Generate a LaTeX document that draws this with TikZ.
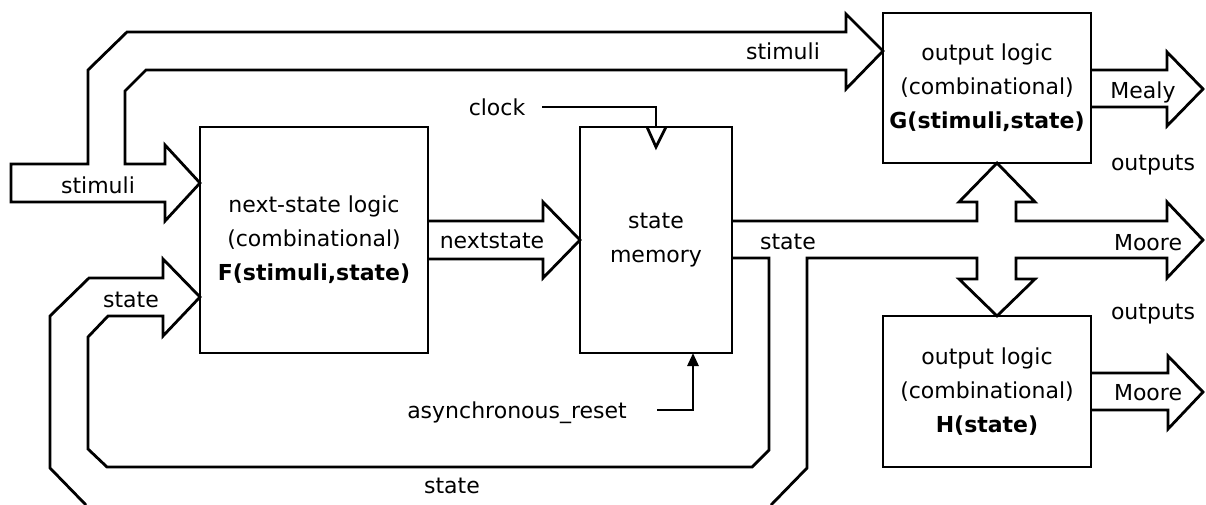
\documentclass[tikz,border=0pt]{standalone}
\usepackage{fontspec}
\setmainfont{DejaVu Sans}
\usetikzlibrary{arrows.meta}
\begin{document}
\begin{tikzpicture}[x=1pt,y=-1pt,
  box/.style={draw, line width=2.8pt, inner sep=0pt, align=center,
    font=\fontsize{22}{34}\selectfont},
  lbl/.style={font=\fontsize{22}{26}\selectfont, inner sep=0pt, anchor=base},
  bus/.style={draw, line width=2.8pt, line join=miter},
  wire/.style={draw, line width=2.8pt}]
\useasboundingbox (0,0) rectangle (1206,504);

% blocks
\node[box, minimum width=228pt, minimum height=226pt] (F) at (314,240)
  {next-state logic\\(combinational)\\\textbf{F(stimuli,state)}};
\node[box, minimum width=152pt, minimum height=226pt] (M) at (656,240)
  {state\\memory};
\node[box, minimum width=208pt, minimum height=150pt] (G) at (987,88)
  {output logic\\(combinational)\\\textbf{G(stimuli,state)}};
\node[box, minimum width=208pt, minimum height=151pt] (H) at (987,391.5)
  {output logic\\(combinational)\\\textbf{H(state)}};

% stimuli bus
\draw[bus] (11,164) -- (88,164) -- (88,70) -- (127,32) -- (846,32) -- (846,14)
  -- (883,51) -- (846,89) -- (846,70) -- (146,70) -- (125,91) -- (125,164)
  -- (165,164) -- (165,145) -- (200,183) -- (165,221) -- (165,202) -- (11,202) -- cycle;

% nextstate
\draw[bus] (428,221) -- (543,221) -- (543,202) -- (580,240) -- (543,278)
  -- (543,259) -- (428,259);

% state bus, upper / right part
\draw[bus] (732,221) -- (977,221) -- (977,202) -- (959,202) -- (997,163)
  -- (1035,202) -- (1016,202) -- (1016,221) -- (1167,221) -- (1167,202)
  -- (1203,240) -- (1167,278) -- (1167,258) -- (1016,258) -- (1016,279)
  -- (1035,279) -- (997,316) -- (959,279) -- (977,279) -- (977,258)
  -- (807,258) -- (807,468) -- (771,505);

% state bus, feedback part
\draw[bus] (732,258) -- (769,258) -- (769,450) -- (752,467) -- (107,467)
  -- (88,449) -- (88,337) -- (108,316) -- (163,316) -- (163,336) -- (200,297)
  -- (163,259) -- (163,278) -- (89,278) -- (50,316) -- (50,468) -- (86,505);

% Mealy / Moore outputs
\draw[bus] (1091,70) -- (1167,70) -- (1167,52) -- (1203,89) -- (1167,126)
  -- (1167,107) -- (1091,107);
\draw[bus] (1091,373) -- (1168,373) -- (1168,356) -- (1203,392) -- (1168,429)
  -- (1168,410) -- (1091,410);

% clock
\coordinate (clkstart) at (542,107);
\draw[wire] (clkstart) -| (M.north);
\draw[wire, line join=miter] (647,127) -- (656,147) -- (666,127);

% reset
\coordinate (rststart) at (657,410);
\coordinate (rstend) at (693,353);
\draw[wire, -{Triangle[length=13pt,width=11pt]}] (rststart) -| (rstend);

% labels
\node[lbl] (l1) at (98,193) {stimuli};
\node[lbl] (l2) at (783,59) {stimuli};
\node[lbl] (l3) at (492,248) {nextstate};
\node[lbl] (l4) at (131,307) {state};
\node[lbl] (l5) at (788,249) {state};
\node[lbl] (l6) at (452,493) {state};
\node[lbl] (l7) at (497,115) {clock};
\node[lbl] (l8) at (517,418) {asynchronous\_reset};
\node[lbl] (l9) at (1143,98) {Mealy};
\node[lbl] (l10) at (1148,250) {Moore};
\node[lbl] (l11) at (1148,400) {Moore};
\node[lbl] (l12) at (1153,170) {outputs};
\node[lbl] (l13) at (1153,319) {outputs};
\end{tikzpicture}
\end{document}
